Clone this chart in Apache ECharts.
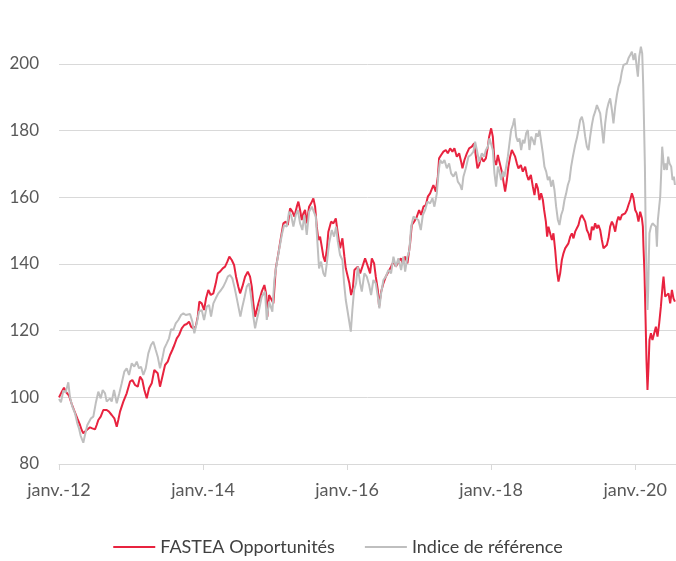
<!DOCTYPE html>
<html>
<head>
<meta charset="utf-8">
<script src="https://cdn.jsdelivr.net/npm/echarts@6/dist/echarts.min.js"></script>
<style>
  html, body { margin: 0; padding: 0; background: #fff; }
  #chart { width: 676px; height: 561px; }
</style>
</head>
<body>
<div id="chart"></div>
<script>
// x values are months since janv. 2012
const seriesNames = ['FASTEA Opportunités', 'Indice de référence']
const yTicks = [80, 100, 120, 140, 160, 180, 200]

const fundMonths = [0, 0.45, 0.83, 1.17, 1.45, 1.67, 2.12, 2.5, 2.78, 3.05, 3.5, 3.78, 4.05, 4.33, 4.62, 4.88, 5.17, 5.55, 6.0, 6.28, 6.55, 6.95, 7.38, 7.67, 7.95, 8.33, 8.78, 9.22, 9.62, 9.88, 10.17, 10.72, 11.28, 11.83, 12.22, 12.67, 13.12, 13.5, 13.88, 14.22, 14.62, 15.0, 15.45, 15.88, 16.45, 16.83, 17.22, 17.67, 18.12, 18.5, 18.88, 19.22, 19.62, 20.0, 20.45, 20.88, 21.28, 21.67, 22.0, 22.38, 22.78, 23.12, 23.38, 23.78, 24.17, 24.5, 24.88, 25.28, 25.72, 26.12, 26.45, 26.83, 27.28, 27.67, 28.05, 28.38, 28.78, 29.17, 29.5, 29.88, 30.17, 30.55, 31.0, 31.45, 31.83, 32.12, 32.38, 32.67, 33.22, 33.78, 34.22, 34.5, 34.72, 35.0, 35.33, 35.72, 36.12, 36.55, 37.0, 37.38, 37.78, 38.12, 38.5, 38.88, 39.22, 39.62, 39.88, 40.17, 40.45, 40.72, 41.0, 41.28, 41.67, 42.0, 42.38, 42.67, 42.95, 43.22, 43.5, 43.78, 44.05, 44.33, 44.62, 44.88, 45.33, 45.72, 46.12, 46.45, 46.83, 47.22, 47.55, 47.78, 48.12, 48.38, 48.67, 48.95, 49.22, 49.78, 50.17, 50.55, 51.0, 51.38, 51.83, 52.12, 52.5, 52.78, 53.12, 53.33, 53.67, 54.05, 54.45, 54.88, 55.33, 55.72, 56.12, 56.55, 56.95, 57.28, 57.67, 58.05, 58.33, 58.5, 58.78, 59.17, 59.62, 60.0, 60.33, 60.72, 61.12, 61.45, 61.83, 62.12, 62.38, 62.78, 63.12, 63.33, 63.67, 64.05, 64.45, 64.78, 65.17, 65.55, 65.88, 66.28, 66.67, 67.0, 67.22, 67.55, 67.95, 68.33, 68.78, 69.17, 69.72, 70.0, 70.33, 70.72, 71.12, 71.45, 71.67, 72.0, 72.28, 72.55, 72.83, 73.12, 73.38, 73.78, 74.05, 74.33, 74.62, 74.88, 75.17, 75.45, 75.72, 76.0, 76.28, 76.55, 76.95, 77.28, 77.67, 77.95, 78.22, 78.62, 78.95, 79.22, 79.5, 79.78, 80.05, 80.33, 80.62, 80.83, 81.12, 81.33, 81.55, 81.83, 82.12, 82.38, 82.67, 82.95, 83.22, 83.5, 83.78, 84.05, 84.33, 84.62, 84.88, 85.17, 85.45, 85.72, 86.0, 86.28, 86.55, 86.83, 87.12, 87.38, 87.67, 87.95, 88.22, 88.5, 88.78, 89.05, 89.33, 89.62, 89.88, 90.17, 90.45, 90.72, 91.0, 91.28, 91.55, 91.83, 92.12, 92.38, 92.67, 92.95, 93.22, 93.5, 93.78, 94.05, 94.33, 94.62, 94.88, 95.17, 95.45, 95.72, 96.0, 96.28, 96.55, 96.83, 97.12, 97.28, 97.38, 97.55, 97.72, 97.88, 98.05, 98.22, 98.38, 98.62, 98.88, 99.17, 99.45, 99.72, 100.0, 100.28, 100.55, 100.72, 101.0, 101.28, 101.55, 101.83, 102.12, 102.38, 102.62]
const fundValues = [100, 101.6, 102.9, 101.6, 102, 100.5, 98, 96.2, 95.7, 93.7, 91.7, 90.2, 89.2, 89.7, 90.2, 90.7, 91, 90.7, 90.4, 91.7, 93.2, 94.2, 96.2, 96.7, 96.2, 95.7, 94.7, 93.7, 91.2, 93.2, 95.7, 98.7, 101.2, 104.7, 105.2, 103.7, 103.2, 106.2, 105.2, 102.2, 99.7, 102.7, 104.2, 108.2, 107.2, 103.2, 106.2, 109.7, 110.7, 112.7, 114.2, 115.7, 117.7, 118.7, 120.7, 121.7, 122, 122.7, 121.2, 120.7, 121.2, 124.2, 128.7, 128.2, 126.2, 129.7, 132.2, 130.7, 131.2, 134.2, 137.2, 137.7, 138.7, 139.2, 140.7, 142.2, 141.2, 139.7, 136.2, 133.2, 131.2, 133.2, 136.2, 137.7, 136.2, 133.2, 128.2, 124.2, 128.2, 131.7, 133.7, 131.2, 124.2, 130.7, 131.2, 128.2, 138.7, 143.2, 148.2, 152.2, 152.7, 151.7, 156.7, 155.7, 154.2, 157.2, 158.7, 156.2, 153.2, 155.2, 156.2, 152.2, 157.2, 158.2, 159.7, 157.2, 151.2, 147.2, 148.2, 145.2, 142.2, 140.7, 144.2, 149.7, 152.7, 152.2, 153.7, 149.2, 144.7, 147.7, 142.2, 138.7, 136.2, 134.2, 130.7, 132.7, 138.2, 139.2, 137.2, 139.2, 141.7, 139.7, 137.2, 141.7, 140.2, 136.2, 132.2, 127.2, 131.7, 134.2, 136.2, 137.7, 139.2, 140.7, 139.2, 140.7, 141.7, 140.2, 142.2, 140.2, 140.2, 146.2, 151.7, 152.7, 154.2, 156.2, 154.7, 157.2, 157.7, 160.2, 161.2, 161.7, 163.7, 161.7, 166.2, 171.7, 172.7, 173.7, 174.2, 173.2, 174.7, 173.7, 174.7, 172.2, 173.2, 170.7, 168.7, 171.2, 173.2, 174.7, 175.2, 176.2, 168.7, 169.7, 172.2, 170.7, 171.7, 175.2, 178.2, 180.7, 178.2, 171.2, 169.7, 172.7, 170.7, 167.7, 164.7, 161.7, 165.2, 169.2, 172.2, 174.2, 174.2, 172.2, 170.2, 168.7, 169.7, 167.7, 169.2, 166.7, 165.2, 166.7, 163.2, 160.7, 164.2, 162.7, 159.2, 161.2, 159.2, 156.2, 152.7, 148.2, 151.2, 150.7, 147.2, 149.2, 144.2, 138.2, 134.7, 137.2, 141.2, 143.2, 144.7, 144.2, 146.2, 148.2, 149.2, 147.7, 149.7, 150.2, 151.7, 153.7, 154.7, 155.2, 152.7, 150.2, 149.2, 147.2, 151.2, 150.2, 152.2, 150.7, 151.7, 150.2, 147.2, 144.7, 144.2, 145.7, 147.7, 151.2, 152.7, 151.7, 149.7, 152.7, 154.2, 153.2, 154.7, 154.2, 155.2, 156.2, 157.7, 159.2, 161.2, 159.7, 156.2, 155.2, 152.7, 155.7, 153.7, 151.2, 145.2, 137.2, 124.2, 111.2, 102.2, 109.2, 117.2, 119.2, 117.2, 119.2, 121.2, 118.2, 122.2, 127.2, 133.2, 136.2, 130.2, 130.2, 131.2, 128.2, 132.2, 129.7, 128.7]

const benchMonths = [0, 0.33, 0.72, 1.12, 1.55, 1.83, 2.22, 2.67, 3.05, 3.33, 3.62, 4.05, 4.33, 4.72, 5.0, 5.33, 5.72, 6.12, 6.55, 6.95, 7.28, 7.67, 7.95, 8.22, 8.5, 8.78, 9.17, 9.62, 10.05, 10.45, 10.88, 11.28, 11.67, 12.12, 12.55, 12.95, 13.33, 13.67, 14.05, 14.45, 14.88, 15.33, 15.72, 16.12, 16.45, 16.83, 17.22, 17.55, 17.95, 18.33, 18.67, 19.05, 19.45, 19.88, 20.33, 20.72, 21.12, 21.45, 21.83, 22.22, 22.55, 22.95, 23.33, 23.78, 24.17, 24.62, 25.0, 25.33, 25.72, 26.12, 26.55, 27.0, 27.38, 27.78, 28.12, 28.5, 28.88, 29.22, 29.62, 29.88, 30.22, 30.55, 30.88, 31.28, 31.67, 32.0, 32.38, 32.67, 32.95, 33.22, 33.78, 34.33, 34.62, 35.0, 35.33, 35.55, 35.88, 36.28, 36.67, 37.12, 37.5, 37.95, 38.33, 38.67, 39.05, 39.45, 39.78, 40.17, 40.55, 40.88, 41.28, 41.67, 42.12, 42.45, 42.78, 43.05, 43.33, 43.67, 44.05, 44.33, 44.62, 45.0, 45.45, 45.83, 46.17, 46.45, 46.83, 47.22, 47.5, 47.78, 48.05, 48.33, 48.62, 48.88, 49.17, 49.5, 49.78, 50.17, 50.45, 50.88, 51.28, 51.67, 52.0, 52.38, 52.78, 53.12, 53.38, 53.67, 54.05, 54.45, 54.88, 55.33, 55.72, 56.12, 56.55, 57.0, 57.38, 57.67, 58.05, 58.38, 58.67, 59.05, 59.45, 59.88, 60.28, 60.62, 61.0, 61.38, 61.83, 62.22, 62.55, 62.95, 63.22, 63.5, 63.88, 64.22, 64.62, 65.0, 65.33, 65.72, 66.12, 66.45, 66.83, 67.12, 67.38, 67.78, 68.22, 68.62, 69.05, 69.33, 69.62, 70.0, 70.45, 70.83, 71.12, 71.45, 71.72, 72.0, 72.28, 72.55, 72.83, 73.12, 73.38, 73.67, 73.95, 74.22, 74.5, 74.78, 75.05, 75.33, 75.62, 75.88, 76.17, 76.45, 76.72, 77.0, 77.28, 77.55, 77.83, 78.12, 78.38, 78.67, 78.95, 79.22, 79.5, 79.78, 80.05, 80.33, 80.62, 80.88, 81.17, 81.45, 81.72, 82.0, 82.28, 82.55, 82.83, 83.12, 83.38, 83.67, 83.95, 84.22, 84.5, 84.78, 85.05, 85.33, 85.62, 86.0, 86.28, 86.55, 86.83, 87.12, 87.38, 87.67, 87.95, 88.22, 88.5, 88.78, 89.05, 89.33, 89.62, 89.88, 90.17, 90.45, 90.72, 91.0, 91.28, 91.55, 91.83, 92.12, 92.38, 92.67, 92.95, 93.22, 93.5, 93.78, 94.05, 94.33, 94.62, 94.88, 95.17, 95.45, 95.72, 96.0, 96.28, 96.45, 96.67, 96.95, 97.17, 97.33, 97.45, 97.62, 97.72, 97.83, 97.95, 98.05, 98.17, 98.28, 98.38, 98.62, 98.88, 99.17, 99.45, 99.62, 99.78, 100.0, 100.17, 100.33, 100.5, 100.67, 100.83, 101.05, 101.28, 101.5, 101.72, 102.0, 102.22, 102.45, 102.62]
const benchValues = [99.5, 98.5, 102, 101.5, 104.5, 100, 97.2, 95.2, 92.2, 90.7, 88.4, 86.4, 88.7, 91.7, 92.2, 93.7, 94.2, 98.2, 101.7, 99.7, 102.2, 101.2, 98.7, 98.2, 99.7, 98.7, 102.2, 98.2, 101.2, 104.2, 107.7, 108.7, 106.7, 110.2, 109.2, 110.7, 108.7, 109.2, 106.7, 108.7, 113.2, 115.7, 116.7, 114.2, 112.2, 108.7, 111.7, 114.7, 116.2, 117.7, 120.4, 120.2, 122.2, 123.2, 124.7, 125.2, 124.7, 125.2, 125, 122.7, 119.2, 122.2, 125.7, 126.2, 123.2, 127.2, 127.7, 124.2, 128.2, 129.7, 131.2, 132.2, 133.2, 134.7, 136.2, 136.7, 135.7, 133.2, 129.7, 129.2, 124.2, 127.2, 129.7, 133.2, 134.2, 130.2, 124.2, 120.7, 123.2, 125.2, 130.2, 131.7, 123.2, 128.7, 128.2, 125.7, 135.2, 140.2, 144.2, 148.7, 151.7, 151.2, 155.7, 154.7, 151.2, 154.7, 156.2, 152.2, 150.2, 154.7, 148.7, 155.7, 157.2, 157.7, 154.2, 146.7, 138.7, 140.7, 137.2, 136.2, 140.2, 146.2, 150.2, 148.2, 151.2, 146.7, 142.7, 141.2, 134.2, 129.2, 126.2, 126.7, 119.7, 126.2, 132.2, 134.2, 139.2, 134.2, 131.7, 137.2, 136.2, 133.7, 130.7, 135.2, 134.2, 130.2, 126.7, 131.2, 135.2, 136.2, 138.2, 137.2, 142.2, 139.2, 141.7, 138.2, 142.2, 137.7, 142.2, 144.2, 151.2, 154.2, 153.7, 153.2, 150.2, 154.7, 156.2, 158.7, 158.2, 159.7, 157.2, 161.2, 167.2, 171.2, 170.2, 171.2, 168.7, 170.2, 167.2, 166.2, 167.7, 164.7, 163.7, 162.2, 166.2, 168.7, 172.2, 172.7, 173.7, 176.7, 174.2, 170.7, 173.2, 172.2, 174.2, 175.2, 177.7, 178.2, 174.2, 167.2, 163.2, 169.2, 167.7, 165.2, 167.7, 166.2, 169.2, 172.2, 176.2, 180.2, 181.7, 183.7, 178.2, 176.7, 177.7, 174.2, 177.2, 176.2, 179.2, 180.2, 174.2, 178.2, 177.2, 175.7, 179.2, 178.2, 180.2, 179.7, 173.2, 169.2, 167.7, 165.2, 166.2, 163.2, 165.2, 162.2, 157.2, 153.2, 151.7, 154.7, 156.2, 159.2, 161.2, 163.7, 165.2, 169.2, 172.2, 175.7, 177.7, 180.2, 183.2, 184.2, 182.2, 178.2, 175.2, 174.2, 178.2, 181.7, 184.2, 185.7, 187.7, 187.7, 185.2, 180.7, 176.2, 182.2, 186.2, 188.2, 189.7, 186.2, 182.2, 187.2, 190.7, 193.2, 194.7, 197.7, 199.7, 199.2, 200.2, 201.7, 202.7, 203.7, 201.2, 203.2, 198.7, 196.2, 202.2, 205.2, 203.2, 194.2, 184.2, 169.2, 154.2, 142.2, 133.2, 126.2, 132.2, 142.2, 149.2, 151.2, 152.2, 152.7, 151.2, 145.2, 153.2, 157.2, 160.2, 167.2, 175.2, 175.7, 168.2, 170.2, 168.2, 172.2, 170.2, 169.2, 165.2, 166.2, 163.7]

const xMax = 102.8
const fontFamily = 'Lato, "Open Sans", sans-serif'

function pairs(xs, ys) {
  return xs.map((x, i) => [x, ys[i]])
}

const chart = echarts.init(document.getElementById('chart'))
chart.setOption({
  animation: false,
  backgroundColor: '#ffffff',
  textStyle: { fontFamily },
  grid: { left: 59, right: 0, top: 64, bottom: 97 },
  legend: {
    bottom: 0,
    left: 'center',
    icon: 'rect',
    itemWidth: 42,
    itemHeight: 2,
    itemGap: 30,
    textStyle: { color: '#404040', fontSize: 18, fontFamily },
    data: seriesNames
  },
  xAxis: {
    type: 'value',
    min: 0,
    max: xMax,
    interval: 24,
    axisLine: { show: true, lineStyle: { color: '#d9d9d9', width: 1 } },
    axisTick: { show: true, length: 6, lineStyle: { color: '#d9d9d9' } },
    splitLine: { show: false },
    axisLabel: {
      color: '#595959',
      fontSize: 18,
      margin: 17,
      showMaxLabel: false,
      formatter: v => (v % 24 === 0 ? 'janv.-' + (12 + v / 12) : '')
    }
  },
  yAxis: {
    type: 'value',
    min: yTicks[0],
    max: yTicks[yTicks.length - 1],
    interval: 20,
    axisLine: { show: false },
    axisTick: { show: false },
    splitLine: { lineStyle: { color: '#d9d9d9', width: 1 } },
    axisLabel: { color: '#595959', fontSize: 17, margin: 20 }
  },
  series: [
    {
      name: seriesNames[0],
      type: 'line',
      data: pairs(fundMonths, fundValues),
      showSymbol: false,
      clip: false,
      lineStyle: { color: '#e8233f', width: 2 },
      itemStyle: { color: '#e8233f' }
    },
    {
      name: seriesNames[1],
      type: 'line',
      data: pairs(benchMonths, benchValues),
      showSymbol: false,
      clip: false,
      lineStyle: { color: '#bfbfbf', width: 2 },
      itemStyle: { color: '#bfbfbf' }
    }
  ]
})
</script>
</body>
</html>
